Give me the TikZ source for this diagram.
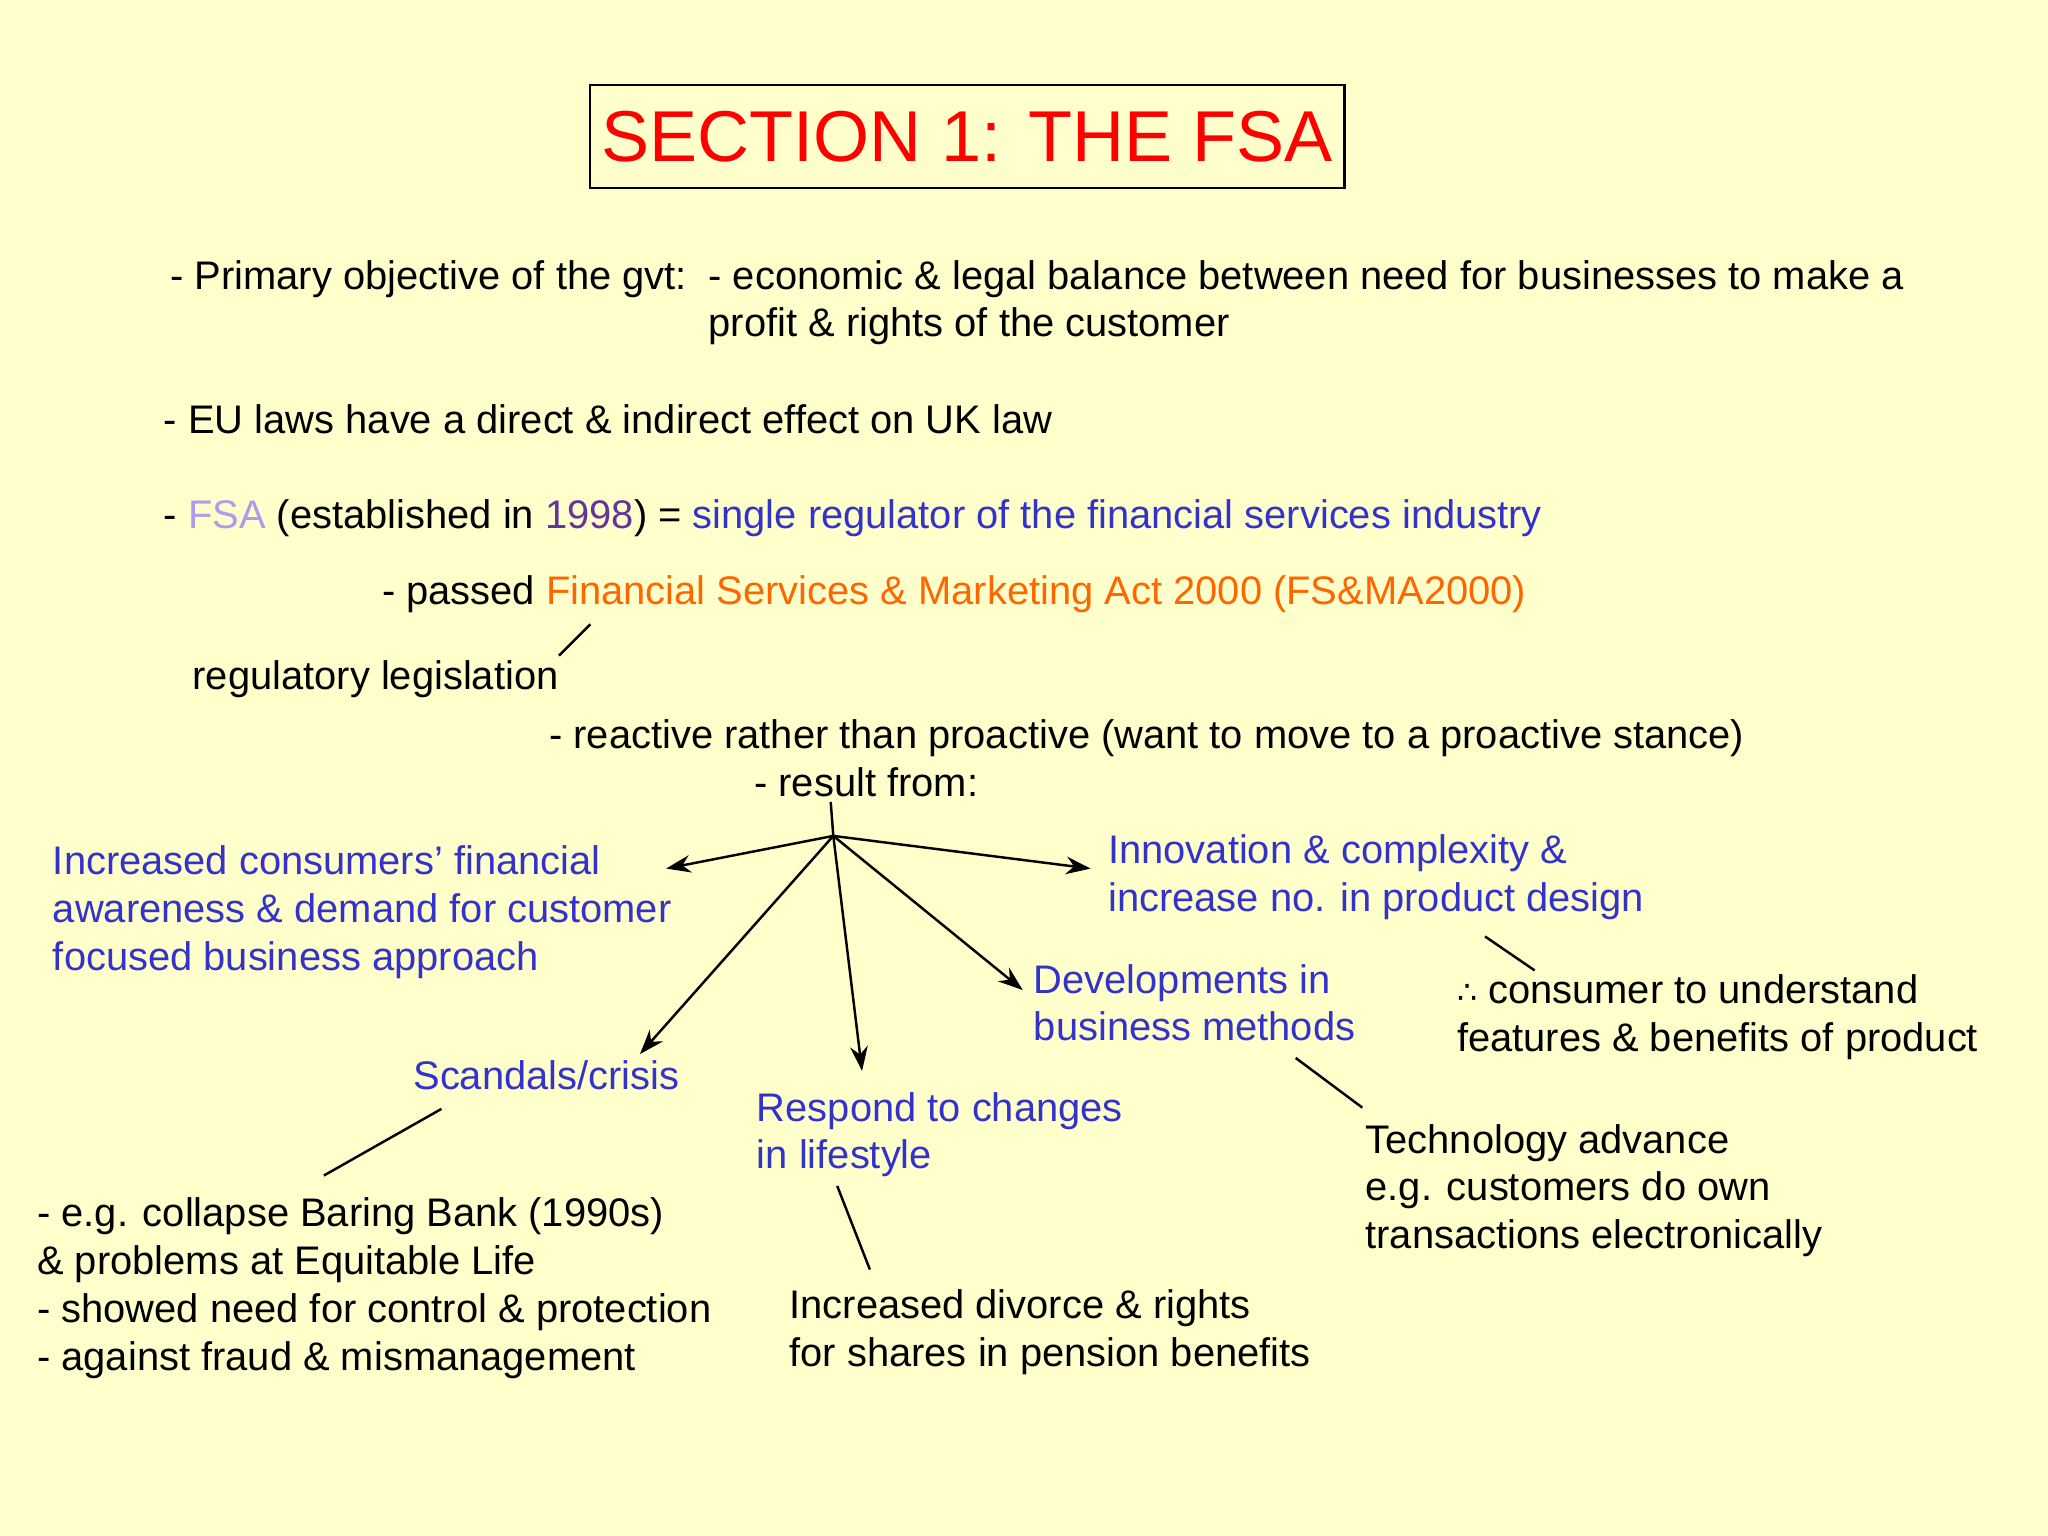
\documentclass[tikz,border=0pt]{standalone}
\usepackage{fontspec}
\usetikzlibrary{arrows.meta}
\setmainfont{Liberation Sans}
\newfontfamily\symf{DejaVu Sans}
\definecolor{bg}{HTML}{FFFFCC}
\definecolor{tblue}{HTML}{3333CC}
\definecolor{torange}{HTML}{FF6600}
\definecolor{tlav}{HTML}{B399EE}
\definecolor{tpurp}{HTML}{663399}
\definecolor{tred}{HTML}{FF0000}
\begin{document}
\begin{tikzpicture}[x=0.013061cm,y=-0.013061cm,
  txt/.style={anchor=base west,inner sep=0pt,font=\fontsize{11.35pt}{13.6pt}\selectfont,align=left},
  btxt/.style={txt,text=tblue},
  arr/.style={-{Stealth[length=7pt,width=5pt]},line width=0.7pt},
  ln/.style={line width=0.7pt}]
\fill[bg] (0,0) rectangle (1568,1176);
\useasboundingbox (0,0) rectangle (1568,1176);
\node[draw,line width=0.7pt,minimum width=557*0.013061cm,minimum height=79*0.013061cm,text=tred,font=\fontsize{20.5pt}{24pt}\selectfont] (title) at (740.5,104.5) {SECTION 1: THE FSA};
\node[txt] (p1) at (130,222) {- Primary objective of the gvt:};
\node[txt] (p2) at (542,222) {- economic \& legal balance between need for businesses to make a};
\node[txt] (p3) at (542,258) {profit \& rights of the customer};
\node[txt] (eu) at (125,332) {- EU laws have a direct \& indirect effect on UK law};
\node[txt] (fsa) at (125,405) {- \textcolor{tlav}{FSA} (established in \textcolor{tpurp}{1998}) = \textcolor{tblue}{single regulator of the financial services industry}};
\node[txt] (pass) at (292,463) {- passed \textcolor{torange}{Financial Services \& Marketing Act 2000 (FS\&MA2000)}};
\node[txt] (reg) at (147,528) {regulatory legislation};
\coordinate (r1) at (428,502); \coordinate (r2) at (452,478);
\draw[ln] (r1) -- (r2);
\node[txt] (react) at (420,573) {- reactive rather than proactive (want to move to a proactive stance)};
\node[txt] (res) at (577,610) {- result from:};
\coordinate (hub) at (638,640); \coordinate (h0) at (636,614);
\draw[ln] (h0) -- (hub);
\node[btxt] (cons) at (40,743) {Increased consumers\textquoteright\ financial\\awareness \& demand for customer\\focused business approach};
\node[btxt] (inno) at (848,698) {Innovation \& complexity \&\\increase no. in product design};
\node[btxt] (dev) at (791,797) {Developments in\\business methods};
\node[btxt] (scan) at (316,834) {Scandals/crisis};
\node[btxt] (resp) at (579,895) {Respond to changes\\in lifestyle};
\coordinate (a1) at (510,665); \coordinate (a2) at (835,665);
\coordinate (a3) at (490,807); \coordinate (a4) at (660,820); \coordinate (a5) at (783,758);
\foreach \t in {a1,a2,a3,a4,a5} \draw[arr] (hub) -- (\t);
\node[txt] (und) at (1115,805) {{\symf\small ∴} consumer to understand\\features \& benefits of product};
\coordinate (u1) at (1137,717); \coordinate (u2) at (1175,743);
\draw[ln] (u1) -- (u2);
\node[txt] (tech) at (1045,956) {Technology advance\\e.g. customers do own\\transactions electronically};
\coordinate (t1) at (992,810); \coordinate (t2) at (1043,848);
\draw[ln] (t1) -- (t2);
\node[txt] (eg) at (28,1049) {- e.g. collapse Baring Bank (1990s)\\\& problems at Equitable Life\\- showed need for control \& protection\\- against fraud \& mismanagement};
\coordinate (s1) at (338,849); \coordinate (s2) at (248,900);
\draw[ln] (s1) -- (s2);
\node[txt] (div) at (604,1046) {Increased divorce \& rights\\for shares in pension benefits};
\coordinate (d1) at (641,908); \coordinate (d2) at (666,972);
\draw[ln] (d1) -- (d2);
\end{tikzpicture}
\end{document}
